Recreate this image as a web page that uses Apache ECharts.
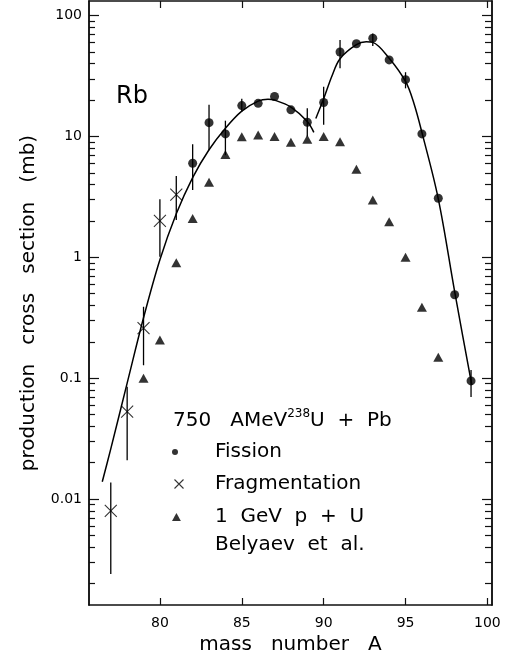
<!DOCTYPE html>
<html><head><meta charset="utf-8">
<script src="https://cdn.jsdelivr.net/npm/echarts@6/dist/echarts.min.js"></script>
<style>html,body{margin:0;padding:0;background:#fff}#c{width:513px;height:665px}</style>
</head><body><div id="c"></div>
<script>
// ---------- data ----------
const fissionA = [82, 83, 84, 85, 86, 87, 88, 89, 90, 91, 92, 93, 94, 95, 96, 97, 98, 99];
const fissionV = [6.0, 13.0, 10.5, 18.0, 18.8, 21.4, 16.6, 13.1, 19.1, 50, 58.5, 65, 43, 29.5, 10.5, 3.08, 0.49, 0.095];
const fissionErrA = [82, 83, 84, 85, 89, 90, 91, 93, 95, 99];
const fissionErrLo = [3.6, 7.7, 7.0, 16.0, 10.0, 12.5, 36.7, 56, 25, 0.070];
const fissionErrHi = [8.6, 18.3, 13.5, 20.5, 17.1, 25.8, 62.9, 71, 34, 0.117];

const fragA = [77, 78, 79, 80, 81];
const fragV = [0.0080, 0.053, 0.26, 2.0, 3.3];
const fragErrLo = [0.0024, 0.021, 0.128, 1.01, 2.04];
const fragErrHi = [0.0137, 0.085, 0.39, 3.02, 4.71];

const belyaevA = [79, 80, 81, 82, 83, 84, 85, 86, 87, 88, 89, 90, 91, 92, 93, 94, 95, 96, 97];
const belyaevV = [0.10, 0.207, 0.90, 2.10, 4.18, 7.1, 9.96, 10.3, 9.97, 8.95, 9.48, 9.97, 9.05, 5.35, 2.98, 1.97, 1.0, 0.386, 0.149];

const curveLeftA = [76.48, 77, 78, 79, 80, 81, 82, 83, 84, 85, 86, 86.6, 87, 88, 89, 89.4];
const curveLeftV = [0.0139, 0.026, 0.091, 0.316, 0.955, 2.29, 4.57, 7.76, 11.7, 16.2, 19.6, 20.3, 20.0, 17.5, 13.3, 10.8];
const curveRightA = [89.52, 90, 90.5, 91, 92, 92.6, 93, 94, 95, 95.5, 96, 97, 98, 99, 99.05];
const curveRightV = [14.1, 20.5, 31.5, 44, 57.5, 60.7, 60, 44.4, 28.5, 19.0, 10.8, 3.05, 0.52, 0.095, 0.088];

const xTickValues = [80, 85, 90, 95, 100];
const yMajorValues = [0.01, 0.1, 1, 10, 100];
const yMajorLabels = ['0.01', '0.1', '1', '10', '100'];
const yMinorMantissas = [2, 3, 4, 5, 6, 7, 8, 9];
const yMinorDecades = [0.001, 0.01, 0.1, 1, 10];

const seriesNames = ['Fission', 'Fragmentation', '1 GeV p + U'];
const headerText = ['750   AMeV', '238', 'U  +  Pb'];
const belyaevText = 'Belyaev  et  al.';
const elementText = 'Rb';
const xTitle = 'mass   number   A';
const yTitle = 'production   cross   section   (mb)';

// ---------- build ----------
const X_MIN = 75.67, X_MAX = 100.28, Y_MIN = 0.00133, Y_MAX = 132;
const FONT = 'DejaVu Sans';
const yMinorValues = [];
yMinorDecades.forEach(d => yMinorMantissas.forEach(m => {
  const v = +(m * d).toPrecision(3);
  if (v >= Y_MIN && v <= Y_MAX) yMinorValues.push(v);
}));
const zip = (a, b) => a.map((x, i) => [x, b[i]]);
const zip3 = (a, b, c) => a.map((x, i) => [x, b[i], c[i]]);

function errRender(params, api) {
  const p1 = api.coord([api.value(0), api.value(1)]);
  const p2 = api.coord([api.value(0), api.value(2)]);
  return { type: 'line', shape: { x1: p1[0], y1: p1[1], x2: p2[0], y2: p2[1] },
    style: { stroke: '#000', lineWidth: 1.3 } };
}
function yLabel(v) {
  for (let i = 0; i < yMajorValues.length; i++) {
    if (Math.abs(Math.log10(v) - Math.log10(yMajorValues[i])) < 1e-6) return yMajorLabels[i];
  }
  return '';
}
const spaced = name => name.replace(/ /g, '  ');
const axisLine = { show: true, lineStyle: { color: '#111', width: 1.5 } };
const tickStyle = { color: '#111', width: 1.2 };
const CROSS = 'path://M0,0L12,12M12,0L0,12';
const TRI = 'path://M5,0L10,9L0,9Z';
const legendText = pad => ({ fontFamily: FONT, fontSize: 20, color: '#000', padding: [0, 0, 0, pad] });

const yBase = { type: 'log', logBase: 10, min: Y_MIN, max: Y_MAX, splitLine: { show: false }, axisLine: axisLine };

const option = {
  animation: false,
  backgroundColor: '#fff',
  grid: { left: 89, right: 21, top: 1, bottom: 60, containLabel: false },
  xAxis: [
    { type: 'value', min: X_MIN, max: X_MAX, position: 'bottom', axisLine: axisLine,
      splitLine: { show: false },
      axisTick: { show: true, inside: true, length: 7, lineStyle: tickStyle, customValues: xTickValues },
      axisLabel: { show: true, customValues: xTickValues, fontFamily: FONT, fontSize: 14, color: '#000', margin: 11 },
      name: xTitle, nameLocation: 'middle', nameGap: 26,
      nameTextStyle: { fontFamily: FONT, fontSize: 20, color: '#000' } },
    { type: 'value', min: X_MIN, max: X_MAX, position: 'top', axisLine: axisLine,
      splitLine: { show: false },
      axisTick: { show: true, inside: true, length: 7, lineStyle: tickStyle, customValues: xTickValues },
      axisLabel: { show: false } }
  ],
  yAxis: [
    Object.assign({}, yBase, { position: 'left',
      axisTick: { show: true, inside: true, length: 10, lineStyle: tickStyle, customValues: yMajorValues },
      axisLabel: { show: true, customValues: yMajorValues, formatter: yLabel, fontFamily: FONT, fontSize: 14, color: '#000', margin: 7 },
      name: yTitle, nameLocation: 'middle', nameGap: 50, nameRotate: 90,
      nameTextStyle: { fontFamily: FONT, fontSize: 20, color: '#000' } }),
    Object.assign({}, yBase, { position: 'left',
      axisTick: { show: true, inside: true, length: 6, lineStyle: tickStyle, customValues: yMinorValues },
      axisLabel: { show: false } }),
    Object.assign({}, yBase, { position: 'right',
      axisTick: { show: true, inside: true, length: 10, lineStyle: tickStyle, customValues: yMajorValues },
      axisLabel: { show: false } }),
    Object.assign({}, yBase, { position: 'right',
      axisTick: { show: true, inside: true, length: 7, lineStyle: tickStyle, customValues: yMinorValues },
      axisLabel: { show: false } })
  ],
  legend: [
    { data: [seriesNames[0]], left: 172, top: 442, orient: 'vertical', padding: 0, itemWidth: 38, itemHeight: 6,
      selectedMode: false, itemStyle: { color: '#000', borderWidth: 0 }, formatter: spaced,
      textStyle: legendText(16) },
    { data: [{ name: seriesNames[1], icon: CROSS }], left: 172, top: 474, orient: 'vertical', padding: 0, itemWidth: 38, itemHeight: 9,
      selectedMode: false, itemStyle: { color: 'none', borderColor: '#000', borderWidth: 1.1 }, formatter: spaced,
      textStyle: legendText(12) },
    { data: [{ name: seriesNames[2], icon: TRI }], left: 172, top: 507, orient: 'vertical', padding: 0, itemWidth: 38, itemHeight: 8,
      selectedMode: false, itemStyle: { color: '#000', borderWidth: 0 }, formatter: spaced,
      textStyle: legendText(14.5) }
  ],
  graphic: [
    { type: 'text', left: 116, top: 85, style: { text: elementText, font: '24px "' + FONT + '"', fill: '#000' } },
    { type: 'text', left: 173, top: 408, style: {
        text: '{n|' + headerText[0] + '}{s|' + headerText[1] + '}{n|' + headerText[2] + '}',
        rich: { n: { fontFamily: FONT, fontSize: 20, lineHeight: 23, verticalAlign: 'bottom', fill: '#000' },
                s: { fontFamily: FONT, fontSize: 12, lineHeight: 23, verticalAlign: 'top', fill: '#000' } } } },
    { type: 'text', left: 215, top: 535, style: { text: belyaevText, font: '20px "' + FONT + '"', fill: '#000' } }
  ],
  series: [
    { name: 'curveLeft', type: 'line', xAxisIndex: 0, yAxisIndex: 0, data: zip(curveLeftA, curveLeftV),
      showSymbol: false, symbol: 'none', smooth: 0.35, lineStyle: { color: '#000', width: 1.5 }, z: 2, silent: true },
    { name: 'curveRight', type: 'line', xAxisIndex: 0, yAxisIndex: 0, data: zip(curveRightA, curveRightV),
      showSymbol: false, symbol: 'none', smooth: 0.35, lineStyle: { color: '#000', width: 1.5 }, z: 2, silent: true },
    { name: 'fissionErr', type: 'custom', xAxisIndex: 0, yAxisIndex: 0, renderItem: errRender,
      data: zip3(fissionErrA, fissionErrLo, fissionErrHi), encode: { x: 0, y: [1, 2] }, z: 3, silent: true },
    { name: 'fragErr', type: 'custom', xAxisIndex: 0, yAxisIndex: 0, renderItem: errRender,
      data: zip3(fragA, fragErrLo, fragErrHi), encode: { x: 0, y: [1, 2] }, z: 3, silent: true },
    { name: seriesNames[0], type: 'scatter', xAxisIndex: 0, yAxisIndex: 0, data: zip(fissionA, fissionV),
      symbol: 'circle', symbolSize: 9, itemStyle: { color: '#000' }, z: 4 },
    { name: seriesNames[1], type: 'scatter', xAxisIndex: 0, yAxisIndex: 0, data: zip(fragA, fragV),
      symbol: CROSS, symbolSize: 12, itemStyle: { color: 'none', borderColor: '#000', borderWidth: 1.1 }, z: 4 },
    { name: seriesNames[2], type: 'scatter', xAxisIndex: 0, yAxisIndex: 0, data: zip(belyaevA, belyaevV),
      symbol: 'triangle', symbolSize: [10, 9], itemStyle: { color: '#000' }, z: 4 }
  ]
};
const chart = echarts.init(document.getElementById('c'));
chart.setOption(option);
</script>
</body></html>
